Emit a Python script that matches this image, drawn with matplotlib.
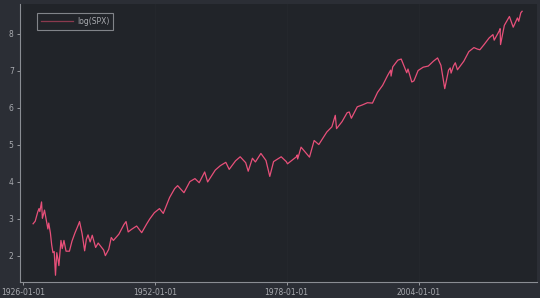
import pandas as pd
import numpy as np
import matplotlib
matplotlib.use('Agg')
import matplotlib.pyplot as plt
import matplotlib.dates as mdates

# log(SPX) (daty i wartości)
dates = ['1928-01', '1928-06', '1928-12', '1929-03', '1929-05', '1929-09', '1929-11', '1930-01',
         '1930-04', '1930-07', '1930-12', '1931-02', '1931-06', '1931-09', '1931-12', '1932-03',
         '1932-06', '1932-09', '1932-12', '1933-02', '1933-07', '1933-10', '1934-02', '1934-07',
         '1935-03', '1935-09', '1936-04', '1936-12', '1937-03', '1937-09', '1938-03', '1938-07',
         '1938-11', '1939-04', '1939-09', '1940-05', '1940-11', '1941-12', '1942-04', '1942-12',
         '1943-06', '1943-11', '1944-12', '1945-12', '1946-05', '1946-10', '1947-06', '1948-06',
         '1949-06', '1950-06', '1951-01', '1951-12', '1952-12', '1953-09', '1954-12', '1955-12',
         '1956-07', '1957-10', '1958-12', '1959-12', '1960-10', '1961-11', '1962-06', '1963-12',
         '1964-12', '1966-01', '1966-09', '1967-12', '1968-11', '1969-12', '1970-06', '1971-04',
         '1971-11', '1972-12', '1973-12', '1974-09', '1975-06', '1976-12', '1977-12', '1978-03',
         '1979-12', '1980-02', '1980-03', '1980-11', '1982-07', '1983-06', '1984-05', '1985-12',
         '1986-12', '1987-08', '1987-11', '1988-12', '1989-12', '1990-05', '1990-10', '1991-12',
         '1992-12', '1993-12', '1994-12', '1995-12', '1996-12', '1997-12', '1998-07', '1998-08',
         '1998-12', '1999-12', '2000-08', '2001-09', '2001-12', '2002-09', '2003-02', '2003-12',
         '2004-12', '2005-12', '2006-12', '2007-10', '2008-06', '2008-11', '2009-03', '2009-12',
         '2010-04', '2010-06', '2010-12', '2011-04', '2011-09', '2012-12', '2013-12', '2014-12',
         '2015-08', '2016-02', '2016-12', '2017-12', '2018-09', '2018-12', '2019-12', '2020-02',
         '2020-03', '2020-12', '2021-12', '2022-09', '2023-07', '2023-10', '2024-03', '2024-06']
values = [2.87, 2.94, 3.19, 3.28, 3.20, 3.46, 3.02, 3.10,
          3.24, 3.05, 2.73, 2.89, 2.62, 2.30, 2.09, 2.12,
          1.48, 2.09, 1.90, 1.74, 2.42, 2.20, 2.42, 2.13,
          2.13, 2.40, 2.62, 2.84, 2.93, 2.60, 2.14, 2.45,
          2.57, 2.38, 2.56, 2.23, 2.35, 2.16, 2.01, 2.18,
          2.50, 2.42, 2.59, 2.85, 2.93, 2.65, 2.72, 2.81,
          2.63, 2.87, 3.00, 3.17, 3.28, 3.15, 3.58, 3.82,
          3.90, 3.71, 4.01, 4.09, 3.98, 4.27, 4.00, 4.32,
          4.44, 4.53, 4.34, 4.57, 4.68, 4.52, 4.29, 4.64,
          4.54, 4.77, 4.58, 4.15, 4.55, 4.68, 4.55, 4.49,
          4.68, 4.73, 4.62, 4.94, 4.67, 5.12, 5.01, 5.35,
          5.49, 5.80, 5.44, 5.63, 5.87, 5.89, 5.72, 6.03,
          6.08, 6.14, 6.13, 6.42, 6.61, 6.88, 7.02, 6.86,
          7.11, 7.29, 7.32, 6.95, 7.05, 6.70, 6.73, 7.01,
          7.10, 7.13, 7.26, 7.35, 7.15, 6.80, 6.52, 7.02,
          7.08, 6.94, 7.14, 7.22, 7.03, 7.26, 7.52, 7.63,
          7.59, 7.57, 7.71, 7.89, 7.98, 7.83, 8.08, 8.14,
          7.71, 8.23, 8.47, 8.18, 8.43, 8.34, 8.57, 8.61]

df = pd.DataFrame({'log(SPX)': values}, index=pd.to_datetime(dates))

tick_labels = ['1926-01-01', '1952-01-01', '1978-01-01', '2004-01-01']

bg_fig = '#2b2e35'
bg_ax = '#212429'
szary = '#a9abb0'

fig = plt.figure(figsize=(5.4, 2.98), dpi=100, facecolor=bg_fig)
ax = fig.add_axes([0.037, 0.054, 0.958, 0.933], facecolor=bg_ax)

ax.plot(df.index, df['log(SPX)'], color='#e8507a', lw=0.9, label='log(SPX)')

ax.set_xlim(pd.Timestamp('1925-06-01'), pd.Timestamp('2027-06-01'))
ax.set_ylim(1.30, 8.81)
ax.set_xticks(pd.to_datetime(tick_labels))
ax.xaxis.set_major_formatter(mdates.DateFormatter('%Y-%m-%d'))
ax.set_yticks([2, 3, 4, 5, 6, 7, 8])

for s in ['top', 'right']:
    ax.spines[s].set_visible(False)
for s in ['left', 'bottom']:
    ax.spines[s].set_color('#8a8d93')
    ax.spines[s].set_linewidth(0.8)
ax.tick_params(colors=szary, labelsize=5.5, length=2.5, width=0.6, pad=2)
ax.grid(axis='x', color='#25282d', lw=0.6)

leg = ax.legend(loc='upper left', bbox_to_anchor=(0.025, 0.98), fontsize=5.5,
                fancybox=False, facecolor=bg_ax, edgecolor='#9a9da2',
                labelcolor=szary, handlelength=4.2, borderpad=0.5, handletextpad=0.6)
leg.get_frame().set_linewidth(0.8)
leg.get_lines()[0].set_color('#8a3a4e')

plt.savefig('out.png', dpi=100, facecolor=bg_fig)
